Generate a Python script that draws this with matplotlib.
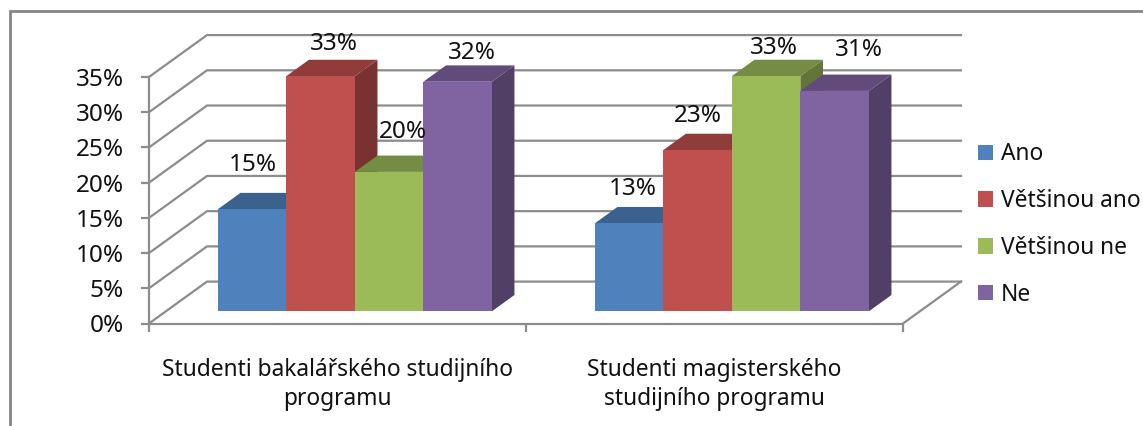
"""3d look clustered columns, projected by hand onto a plain 2d axes"""
import matplotlib.pyplot as plt
from matplotlib.colors import to_rgb
from matplotlib.patches import Patch, Polygon, Rectangle

plt.rcParams['font.family'] = ['Noto Sans', 'DejaVu Sans']

groups = ['Studenti bakalářského studijního\nprogramu', 'Studenti magisterského\nstudijního programu']
series = ['Ano', 'Většinou ano', 'Většinou ne', 'Ne']
ano = [14.5, 12.5]
vetsinou_ano = [33.4, 22.9]
vetsinou_ne = [19.8, 33.4]
ne = [32.6, 31.3]
labels = [['15%', '13%'], ['33%', '23%'], ['20%', '33%'], ['32%', '31%']]
y_ticks = [0, 5, 10, 15, 20, 25, 30, 35]

colors = ['#4F81BD', '#C0504D', '#9BBB59', '#8064A2']
grey = '#8c8c8c'
# label offset from the top centre of each column, pixels
label_shift = [[(1, 44), (4, 34)], [(13, 32), (0, 34)], [(14, 40), (8, 28)], [(14, 29), (24, 41)]]

W, H = 1143, 426
fontsize = 16.4
numsize = 17.5
depth_x, depth_y = 0.1538, 5.95	# wall depth in data units
z_front, z_back = 0.29, 0.68	# column depth, as fraction of the wall depth
bar_w = 0.1817
x_start = 0.138


def proj(x, y, z):
	return x + z * depth_x, y + z * depth_y


def shade(c, f):
	return tuple(v * f for v in to_rgb(c))


fig = plt.figure(figsize=(W / 100, H / 100), dpi=100)
fig.patches.append(Rectangle((9.6 / W, -0.2), 1.2, 0.2 + (H - 11) / H, transform=fig.transFigure,
	fill=False, ec='#868686', lw=2))
ax = fig.add_axes([149 / W, (H - 323.5) / H, 754 / W, 246.5 / H])
ax.set_xlim(0, 2)
ax.set_ylim(0, 35)

# walls
for t in y_ticks:
	ax.plot(*zip(proj(0, t, 0), proj(0, t, 1), proj(2, t, 1)), c=grey, lw=1.6, clip_on=False, zorder=1)
ax.plot(*zip(proj(2, 0, 0), proj(2, 0, 1)), c=grey, lw=1.6, clip_on=False, zorder=1)

# columns, left to right so that later ones overlap the earlier sides
values = [ano, vetsinou_ano, vetsinou_ne, ne]
for g in range(len(groups)):
	for s, vals in enumerate(values):
		v = vals[g]
		x0 = g + x_start + s * bar_w
		x1 = x0 + bar_w
		side = [proj(x1, 0, z_front), proj(x1, 0, z_back), proj(x1, v, z_back), proj(x1, v, z_front)]
		top = [proj(x0, v, z_front), proj(x1, v, z_front), proj(x1, v, z_back), proj(x0, v, z_back)]
		ax.add_patch(Polygon(side, fc=shade(colors[s], 0.63), ec='none', clip_on=False, zorder=2 + g + s / 10))
		ax.add_patch(Polygon(top, fc=shade(colors[s], 0.75), ec='none', clip_on=False, zorder=2 + g + s / 10))
		fx, fy = proj(x0, 0, z_front)
		ax.bar(fx, v, bottom=fy, width=bar_w, align='edge', color=colors[s], clip_on=False, zorder=2 + g + s / 10 + 0.01)
		dx, dy = label_shift[s][g]
		ax.annotate(labels[s][g], (fx + bar_w / 2, fy + v), xytext=(dx * 0.72, dy * 0.72), textcoords='offset points',
			ha='center', va='center', fontsize=numsize, color='#111111', zorder=10, annotation_clip=False)

for name in ('top', 'right'):
	ax.spines[name].set_visible(False)
for name in ('left', 'bottom'):
	ax.spines[name].set_color(grey)
	ax.spines[name].set_linewidth(1.6)
	ax.spines[name].set_zorder(1.5)
ax.set_yticks(y_ticks, [f'{t}%' for t in y_ticks], fontsize=numsize, color='#111111')
ax.tick_params(axis='y', length=6, width=1.6, color=grey, pad=12)
ax.set_xticks([0, 1, 2], ['', '', ''])
ax.set_xticks([0.5, 1.5], groups, minor=True, fontsize=fontsize, color='#111111')
ax.tick_params(axis='x', which='major', length=6, width=1.6, color=grey)
ax.tick_params(axis='x', which='minor', length=0, pad=25)
for t in ax.get_xticklabels(minor=True):
	t.set_linespacing(1.26)

handles = [Patch(fc=c, ec='none', label=n) for c, n in zip(colors, series)]
fig.legend(handles=handles, loc='center left', bbox_to_anchor=(978 / W, (H - 224.5) / H), frameon=False,
	fontsize=fontsize, handlelength=0.66, handleheight=0.66, handletextpad=0.34, labelspacing=1.0,
	labelcolor='#111111', borderpad=0, borderaxespad=0)

fig.savefig('out.png', dpi=100)
